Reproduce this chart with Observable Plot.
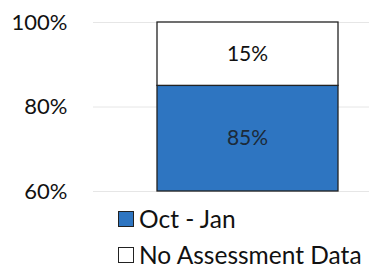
<!DOCTYPE html>
<html>
<head>
<meta charset="utf-8">
<script src="https://cdn.jsdelivr.net/npm/d3@7"></script>
<script src="https://cdn.jsdelivr.net/npm/@observablehq/plot@0.6"></script>
<style>
  html, body { margin: 0; padding: 0; background: #fff; }
  body { position: relative; width: 369px; height: 270px; overflow: hidden; font-family: Lato, "Open Sans", sans-serif; color: #111; }
  #legend { position: absolute; left: 118px; top: 206px; font-size: 24.5px; line-height: 26px; }
  .item { display: flex; align-items: center; height: 26px; white-space: nowrap; }
  .item + .item { margin-top: 10px; }
  .sw { width: 16px; height: 16px; border: 1.3px solid #222; margin-right: 5px; box-sizing: border-box; flex: none; }
</style>
</head>
<body>
<div id="chart"></div>
<div id="legend"></div>
<script>
const categories = ["Oct - Jan", "No Assessment Data"];
const values = [85, 15];
const colors = ["#2e75c1", "#ffffff"];
const yTicks = [60, 80, 100];
const yDomain = [60, 100];

let acc = 0;
const rows = categories.map((c, i) => {
  const lo = acc; acc += values[i];
  return { cat: c, y1: Math.max(lo, yDomain[0]), y2: acc, value: values[i], color: colors[i] };
});

const chart = Plot.plot({
  width: 369,
  height: 204,
  marginLeft: 93,
  marginRight: 0,
  marginTop: 22,
  marginBottom: 13,
  style: { fontFamily: "Lato, 'Open Sans', sans-serif", fontSize: "22px", color: "#111", background: "#fff", overflow: "visible" },
  x: { type: "band", domain: ["bar"], padding: 0, axis: null },
  y: { domain: yDomain, ticks: yTicks },
  marks: [
    Plot.gridY(yTicks, { stroke: "#e6e6e6", strokeOpacity: 1 }),
    Plot.axisY(yTicks, { tickSize: 0, tickPadding: 26, tickFormat: d => d + "%", fontSize: 22, label: null }),
    Plot.barY(rows, { x: () => "bar", y1: "y1", y2: "y2", fill: "color", stroke: "#222", strokeWidth: 1.3, insetLeft: 64, insetRight: 31 }),
    Plot.text(rows, { x: () => "bar", y: d => (d.y1 + d.y2) / 2, text: d => d.value + "%", fill: d => d.color === "#ffffff" ? "#111" : "#1c2a38", fontSize: 21, dx: 16 })
  ]
});
document.getElementById("chart").appendChild(chart);

const legend = document.getElementById("legend");
categories.forEach((c, i) => {
  const item = document.createElement("div");
  item.className = "item";
  const sw = document.createElement("span");
  sw.className = "sw";
  sw.style.background = colors[i];
  const t = document.createElement("span");
  t.textContent = c;
  item.appendChild(sw); item.appendChild(t);
  legend.appendChild(item);
});
</script>
</body>
</html>
